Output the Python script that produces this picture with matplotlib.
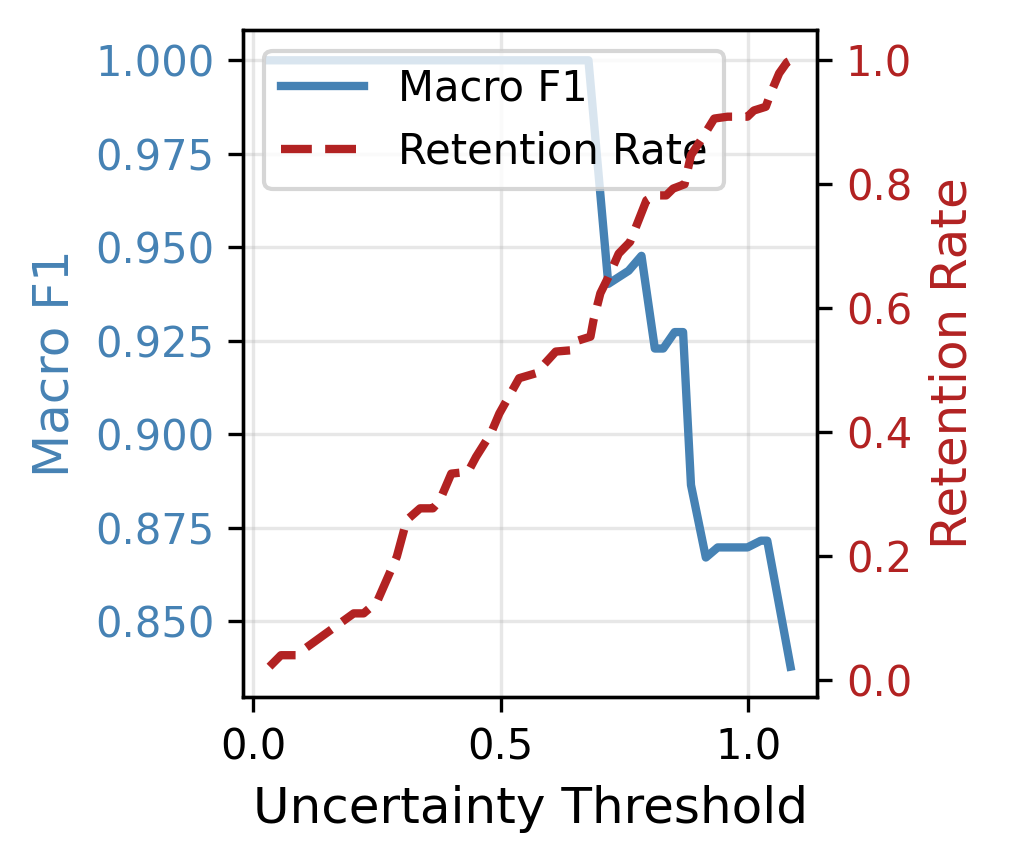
import matplotlib
matplotlib.use("Agg")
import matplotlib.pyplot as plt

# Macro F1 curve
thr_f1 = [0.033, 0.677, 0.717, 0.758, 0.784, 0.811, 0.828, 0.851, 0.868,
          0.884, 0.914, 0.938, 0.998, 1.025, 1.038, 1.085]
macro_f1 = [1.000, 1.000, 0.9402, 0.9437, 0.9477, 0.9229, 0.9229, 0.9273, 0.9273,
            0.8864, 0.8670, 0.8697, 0.8697, 0.8715, 0.8715, 0.8378]

# Retention rate curve
thr_ret = [0.033, 0.056, 0.086, 0.203, 0.223, 0.250, 0.290, 0.310, 0.337, 0.363,
           0.377, 0.400, 0.434, 0.450, 0.480, 0.497, 0.537, 0.571, 0.611, 0.641,
           0.657, 0.681, 0.687, 0.701, 0.717, 0.738, 0.761, 0.794, 0.811, 0.834,
           0.848, 0.871, 0.884, 0.904, 0.931, 0.958, 0.998, 1.011, 1.035, 1.045,
           1.062, 1.078, 1.085]
retention = [0.0215, 0.040, 0.040, 0.1075, 0.1075, 0.126, 0.199, 0.258, 0.277, 0.277,
             0.290, 0.333, 0.336, 0.360, 0.398, 0.430, 0.487, 0.495, 0.530, 0.532,
             0.548, 0.554, 0.580, 0.624, 0.650, 0.688, 0.707, 0.774, 0.782, 0.782,
             0.793, 0.800, 0.847, 0.871, 0.906, 0.909, 0.909, 0.919, 0.925, 0.947,
             0.979, 0.997, 1.000]

f1_ticks = [0.850, 0.875, 0.900, 0.925, 0.950, 0.975, 1.000]
ret_ticks = [0.0, 0.2, 0.4, 0.6, 0.8, 1.0]
x_ticks = [0.0, 0.5, 1.0]

blue = "#4682B4"
red = "#B22222"

fig = plt.figure(figsize=(1009 / 300, 864 / 300), dpi=300)
ax1 = fig.add_subplot(111)
fig.subplots_adjust(left=0.2413, right=0.8093, top=0.9653, bottom=0.1933)

l1, = ax1.plot(thr_f1, macro_f1, color=blue, lw=2, label="Macro F1")
ax1.set_xlabel("Uncertainty Threshold", fontsize=12)
ax1.set_ylabel("Macro F1", color=blue, fontsize=12)
ax1.set_yticks(f1_ticks)
ax1.set_xticks(x_ticks)
ax1.tick_params(axis="y", labelcolor=blue, labelsize=10)
ax1.tick_params(axis="x", labelsize=10)
ax1.grid(True, alpha=0.3)

ax2 = ax1.twinx()
l2, = ax2.plot(thr_ret, retention, color=red, lw=2, ls="--", label="Retention Rate")
ax2.set_ylabel("Retention Rate", color=red, fontsize=12)
ax2.set_yticks(ret_ticks)
ax2.tick_params(axis="y", labelcolor=red, labelsize=10)

ax1.legend([l1, l2], [l1.get_label(), l2.get_label()], loc="upper left", fontsize=10)

fig.savefig("out.png", dpi=300)
